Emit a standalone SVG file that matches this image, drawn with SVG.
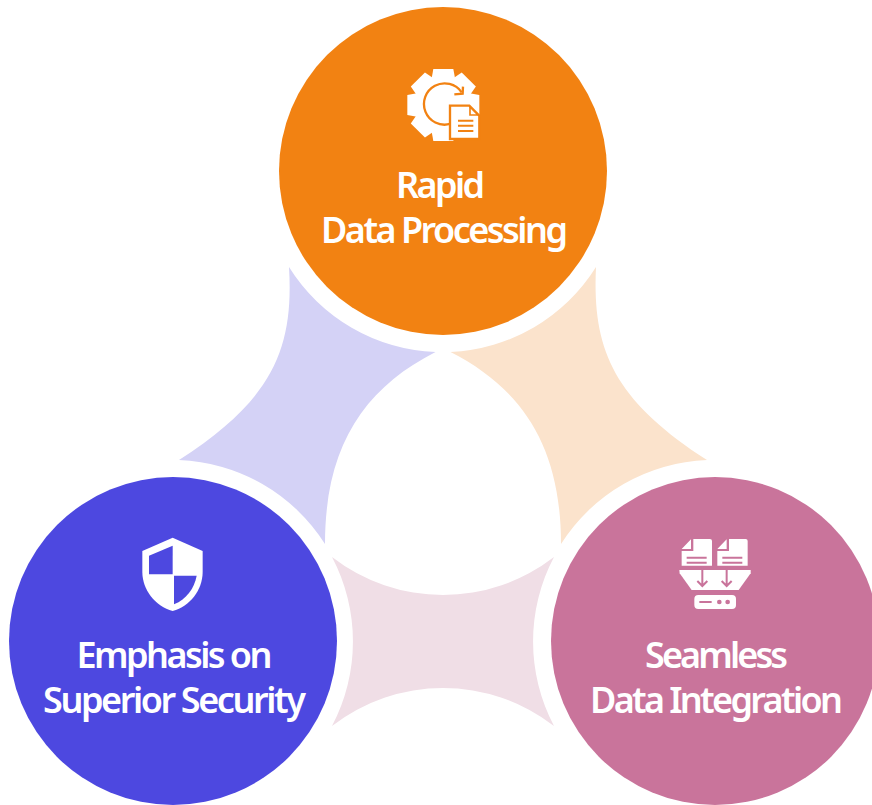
<svg xmlns="http://www.w3.org/2000/svg" width="872" height="805" viewBox="0 0 872 805">
<style>
.lbl{font-family:"Noto Sans","Open Sans","Liberation Sans",sans-serif;font-weight:600;font-size:36px;fill:#fff;text-anchor:middle;letter-spacing:-1px}
.w{fill:#fff}
.o{stroke:#F28212;fill:none}
.p{stroke:#C9749B;fill:none}
</style>
<rect width="872" height="805" fill="#fff"/>
<g id="connectors">
<path id="link-left" fill="#D4D2F6" d="M289 267A181 181 0 0 0 435.500 352C365 388 325 445 325 544A181 181 0 0 0 179 460C272 400 294 350 289 267Z"/>
<path id="link-right" fill="#FBE3CC" d="M596 267A181 181 0 0 1 450.500 352C521 388 561 445 561 544A181 181 0 0 1 707 460C614 400 592 350 596 267Z"/>
<path id="link-bottom" fill="#F0DEE6" d="M332 557A181 181 0 0 0 554 557A181 181 0 0 0 554 726A181 181 0 0 0 332 726A181 181 0 0 0 332 557Z"/>
</g>
<g id="node-rapid">
<circle cx="443" cy="171" r="164" fill="#F28212"/>
<g transform="translate(390 55) scale(.3333)">
<g class="w">
<circle cx="160" cy="150" r="88"/>
<path d="M130 42H190L196 75H124Z"/>
<path d="M130 258H190L196 225H124Z"/>
<path d="M52 120V180L85 186V114Z"/>
<path d="M268 120V180L235 186V114Z"/>
<path transform="rotate(45 160 150)" d="M130 42H190L196 75H124Z"/>
<path transform="rotate(135 160 150)" d="M130 42H190L196 75H124Z"/>
<path transform="rotate(225 160 150)" d="M130 42H190L196 75H124Z"/>
<path transform="rotate(315 160 150)" d="M130 42H190L196 75H124Z"/>
</g>
<path class="o" stroke-width="7" d="M215 112A62 62 0 1 0 180 207"/>
<path class="o" stroke-width="7" d="M193 118L218 116L219 95"/>
<path class="w" stroke="#F28212" stroke-width="7" d="M180 152H238L268 182V252H180Z"/>
<path class="w" d="M240 156L264 180H240Z" stroke="#F28212" stroke-width="5"/>
<path class="o" stroke-width="6" d="M204 197H250M204 212H250M204 228H250"/>
</g>
<text class="lbl" x="440" y="198" textLength="88" lengthAdjust="spacing">Rapid</text>
<text class="lbl" x="444" y="243" textLength="246" lengthAdjust="spacing">Data Processing</text>
</g>
<g id="node-security">
<circle cx="173" cy="641" r="164" fill="#4D48E0"/>
<g transform="translate(125 525) scale(.3333)">
<path class="w" d="M143 38L233 78V140C233 195 195 243 143 258C91 243 52 195 52 140V78Z"/>
<path fill="#4D48E0" d="M143 62L72 92V148H143Z"/>
<path fill="#4D48E0" d="M147 152H215C208 190 185 222 147 238Z"/>
</g>
<text class="lbl" x="174" y="668" textLength="195" lengthAdjust="spacing">Emphasis on</text>
<text class="lbl" x="174" y="713" textLength="262" lengthAdjust="spacing">Superior Security</text>
</g>
<g id="node-integration">
<circle cx="715" cy="641" r="164" fill="#C9749B"/>
<g transform="translate(660 525) scale(.3333)">
<path class="w" d="M65 72L93 43V72ZM100 42H150Q156 42 156 48V122H65V78H100Z"/>
<path class="w" d="M172 72L200 43V72ZM207 42H257Q263 42 263 48V122H172V78H207Z"/>
<path class="p" stroke-width="6" d="M80 98H140M80 113H140M187 98H247M187 113H247"/>
<path class="w" d="M58 135H272L272 145L236 195H95L59 145Z"/>
<path class="p" stroke-width="6" d="M127 125V183M112 168L127 183L142 168M200 125V183M185 168L200 183L215 168"/>
<rect class="w" x="103" y="210" width="125" height="42" rx="12"/>
<path class="p" stroke-width="6" d="M118 231H155"/>
<circle cx="178" cy="231" r="7" fill="#C9749B"/>
<circle cx="203" cy="231" r="7" fill="#C9749B"/>
</g>
<text class="lbl" x="716" y="668" textLength="142" lengthAdjust="spacing">Seamless</text>
<text class="lbl" x="716" y="713" textLength="252" lengthAdjust="spacing">Data Integration</text>
</g>
</svg>
